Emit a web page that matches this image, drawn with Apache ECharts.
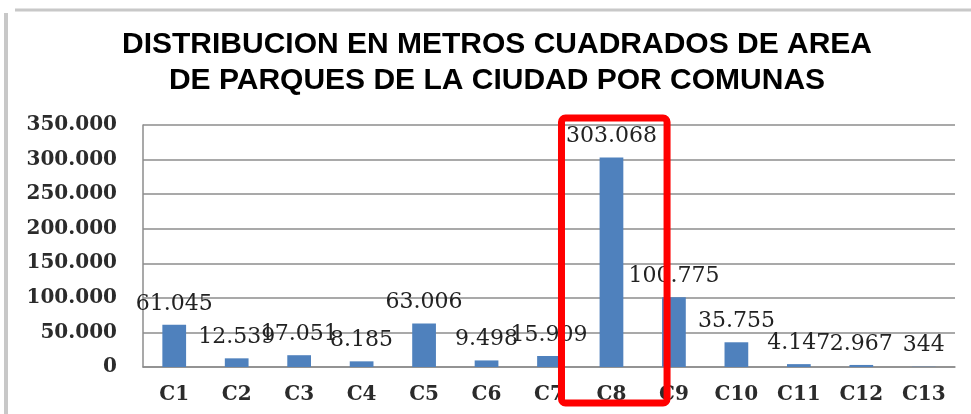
<!DOCTYPE html>
<html>
<head>
<meta charset="utf-8">
<script src="https://cdn.jsdelivr.net/npm/echarts@6/dist/echarts.min.js"></script>
<style>
  html, body { margin: 0; padding: 0; background: #fff; }
  #main { width: 971px; height: 414px; }
</style>
</head>
<body>
<div id="main"></div>
<script>
let comunas = ['C1', 'C2', 'C3', 'C4', 'C5', 'C6', 'C7', 'C8', 'C9', 'C10', 'C11', 'C12', 'C13']
let metros = [61045, 12539, 17051, 8185, 63006, 9498, 15909, 303068, 100775, 35755, 4147, 2967, 344]
let yTicks = [0, 50000, 100000, 150000, 200000, 250000, 300000, 350000]
let destacada = 'C8'

// miles con punto
function miles (v) {
  return String(v).replace(/\B(?=(\d{3})+(?!\d))/g, '.')
}

let myChart = echarts.init(document.getElementById('main'))
myChart.setOption({
  animation: false,
  title: {
    text: 'DISTRIBUCION EN METROS CUADRADOS DE AREA\nDE PARQUES DE LA CIUDAD POR COMUNAS',
    left: 492,
    top: 22,
    textAlign: 'center',
    textStyle: {
      fontFamily: 'Liberation Sans',
      fontWeight: 'bold',
      fontSize: 30,
      lineHeight: 36,
      color: '#000'
    }
  },
  grid: {
    left: 143,
    right: 16,
    top: 125,
    bottom: 47
  },
  xAxis: {
    type: 'category',
    data: comunas,
    axisLine: {
      show: true,
      lineStyle: { color: '#8c8c8c', width: 1.5 }
    },
    axisTick: { show: false },
    axisLabel: {
      margin: 18,
      fontFamily: 'DejaVu Serif',
      fontWeight: 'bold',
      fontSize: 20,
      color: '#2b2b2b'
    }
  },
  yAxis: {
    type: 'value',
    min: yTicks[0],
    max: yTicks[yTicks.length - 1],
    interval: yTicks[1] - yTicks[0],
    axisLine: {
      show: true,
      lineStyle: { color: '#8c8c8c', width: 1.5 }
    },
    axisTick: { show: false },
    splitLine: {
      lineStyle: { color: '#8c8c8c', width: 1.5 }
    },
    axisLabel: {
      margin: 26,
      fontFamily: 'DejaVu Serif',
      fontWeight: 'bold',
      fontSize: 20,
      color: '#2b2b2b',
      formatter: function (v) { return miles(v) }
    }
  },
  series: [{
    name: 'Metros cuadrados',
    type: 'bar',
    data: metros,
    barWidth: '38%',
    itemStyle: { color: '#4f81bd' },
    label: {
      show: true,
      position: 'top',
      distance: 10,
      fontFamily: 'DejaVu Serif',
      fontSize: 22,
      color: '#222',
      formatter: function (p) { return miles(p.value) }
    }
  }]
})

// marco y recuadro rojo sobre la comuna destacada
let cx = myChart.convertToPixel({ xAxisIndex: 0 }, destacada)
let band = myChart.convertToPixel({ xAxisIndex: 0 }, comunas[1]) - myChart.convertToPixel({ xAxisIndex: 0 }, comunas[0])
let yTop = myChart.convertToPixel({ yAxisIndex: 0 }, yTicks[yTicks.length - 1])
myChart.setOption({
  graphic: [
    {
      type: 'line',
      shape: { x1: 15, y1: 10, x2: 971, y2: 10 },
      style: { stroke: '#c8c8c8', lineWidth: 3 }
    },
    {
      type: 'line',
      shape: { x1: 6, y1: 13, x2: 6, y2: 414 },
      style: { stroke: '#c8c8c8', lineWidth: 4 }
    },
    {
      type: 'rect',
      shape: { x: cx - band * 0.8, y: yTop - 7, width: band * 1.69, height: 285, r: 4 },
      style: { fill: 'none', stroke: '#ff0000', lineWidth: 7 },
      z: 100
    }
  ]
})
</script>
</body>
</html>
